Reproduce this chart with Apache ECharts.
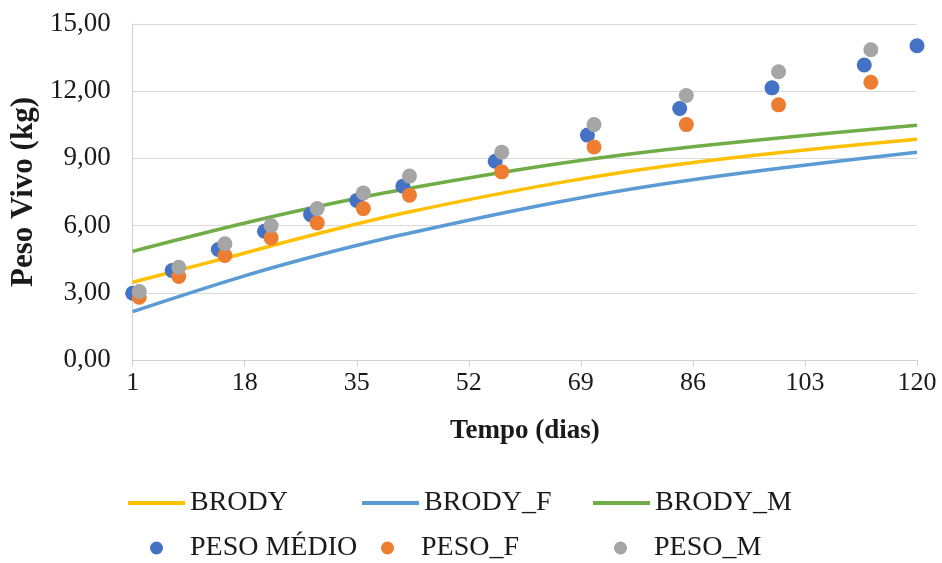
<!DOCTYPE html>
<html>
<head>
<meta charset="utf-8">
<script src="https://cdn.jsdelivr.net/npm/echarts@6/dist/echarts.min.js"></script>
<style>
html,body{margin:0;padding:0;background:#fff;}
#chart{width:942px;height:563px;}
</style>
</head>
<body>
<div id="chart"></div>
<script>
const curveDays = [1, 16, 27, 42, 66, 87, 120];
const brody   = [3.47, 4.62, 5.48, 6.55, 7.93, 8.85, 9.85];
const brodyF  = [2.16, 3.58, 4.51, 5.60, 7.08, 8.09, 9.27];
const brodyM  = [4.85, 5.97, 6.72, 7.61, 8.78, 9.55, 10.48];

// Observed weights
const daysMedio = [1, 7, 14, 21, 28, 35, 42, 56, 70, 84, 98, 112, 120];
const pesoMedio = [2.98, 3.99, 4.93, 5.75, 6.49, 7.12, 7.76, 8.87, 10.04, 11.23, 12.15, 13.17, 14.03];
const daysFM = [2, 8, 15, 22, 29, 36, 43, 57, 71, 85, 99, 113];
const pesoF = [2.80, 3.73, 4.67, 5.45, 6.12, 6.76, 7.36, 8.40, 9.51, 10.51, 11.39, 12.40];
const pesoM = [3.06, 4.14, 5.19, 6.00, 6.76, 7.46, 8.21, 9.28, 10.51, 11.81, 12.87, 13.85];

const xTicks = [1, 18, 35, 52, 69, 86, 103, 120];
const yTicks = [0, 3, 6, 9, 12, 15];

const FONT = 'Liberation Serif';
const pair = (xs, ys) => xs.map((x, i) => [x, ys[i]]);

const colors = {
  'BRODY': '#FFC000', 'BRODY_F': '#5B9BD5', 'BRODY_M': '#70AD47',
  'PESO MÉDIO': '#4472C4', 'PESO_F': '#ED7D31', 'PESO_M': '#A5A5A5'
};

function lineSeries(name, ys) {
  return {
    name, type: 'line', data: pair(curveDays, ys), smooth: 0.4,
    showSymbol: false, symbol: 'none',
    lineStyle: { color: colors[name], width: 3.5 },
    itemStyle: { color: colors[name] }, z: 2
  };
}
function scatterSeries(name, xs, ys, z) {
  return {
    name, type: 'scatter', data: pair(xs, ys), symbol: 'circle', symbolSize: 15,
    itemStyle: { color: colors[name], opacity: 1 }, z
  };
}

const legendText = { fontFamily: FONT, fontSize: 28, color: '#1a1a1a' };
function legendItem(name, left, top, isLine) {
  return {
    data: [name], left, top, orient: 'horizontal', padding: 0,
    itemWidth: 57, itemHeight: isLine ? 4 : 13,
    icon: isLine ? 'rect' : 'circle', itemGap: 0,
    textStyle: legendText, selectedMode: false
  };
}

const chart = echarts.init(document.getElementById('chart'), null, { renderer: 'canvas' });
chart.setOption({
  animation: false,
  backgroundColor: '#fff',
  grid: { left: 131, right: 25, top: 24, bottom: 203, containLabel: false },
  xAxis: {
    type: 'value', min: xTicks[0], max: xTicks[xTicks.length - 1], interval: 17,
    name: 'Tempo (dias)', nameLocation: 'middle', nameGap: 58,
    nameTextStyle: { fontFamily: FONT, fontSize: 27, fontWeight: 'bold', color: '#1a1a1a' },
    axisLine: { show: true, lineStyle: { color: '#d0d0d0', width: 1 } },
    axisTick: { show: true, length: 6, inside: false, lineStyle: { color: '#d0d0d0' } },
    axisLabel: { fontFamily: FONT, fontSize: 26, color: '#1a1a1a', margin: 10 },
    splitLine: { show: false }
  },
  yAxis: {
    type: 'value', min: yTicks[0], max: yTicks[yTicks.length - 1], interval: 3,
    name: 'Peso Vivo (kg)', nameLocation: 'middle', nameGap: 92, nameRotate: 90,
    nameTextStyle: { fontFamily: FONT, fontSize: 31, fontWeight: 'bold', color: '#1a1a1a' },
    axisLine: { show: true, lineStyle: { color: '#d0d0d0', width: 1 } },
    axisTick: { show: false },
    axisLabel: {
      fontFamily: FONT, fontSize: 27, color: '#1a1a1a', margin: 22,
      formatter: v => v.toFixed(2).replace('.', ',')
    },
    splitLine: { show: true, lineStyle: { color: '#d9d9d9', width: 1 } }
  },
  legend: [
    legendItem('BRODY', 128, 489, true),
    legendItem('BRODY_F', 362, 489, true),
    legendItem('BRODY_M', 593, 489, true),
    legendItem('PESO MÉDIO', 150, 534, false),
    legendItem('PESO_F', 381, 534, false),
    legendItem('PESO_M', 614, 534, false)
  ],
  series: [
    lineSeries('BRODY', brody),
    lineSeries('BRODY_F', brodyF),
    lineSeries('BRODY_M', brodyM),
    scatterSeries('PESO MÉDIO', daysMedio, pesoMedio, 3),
    scatterSeries('PESO_F', daysFM, pesoF, 4),
    scatterSeries('PESO_M', daysFM, pesoM, 5)
  ]
});
</script>
</body>
</html>
